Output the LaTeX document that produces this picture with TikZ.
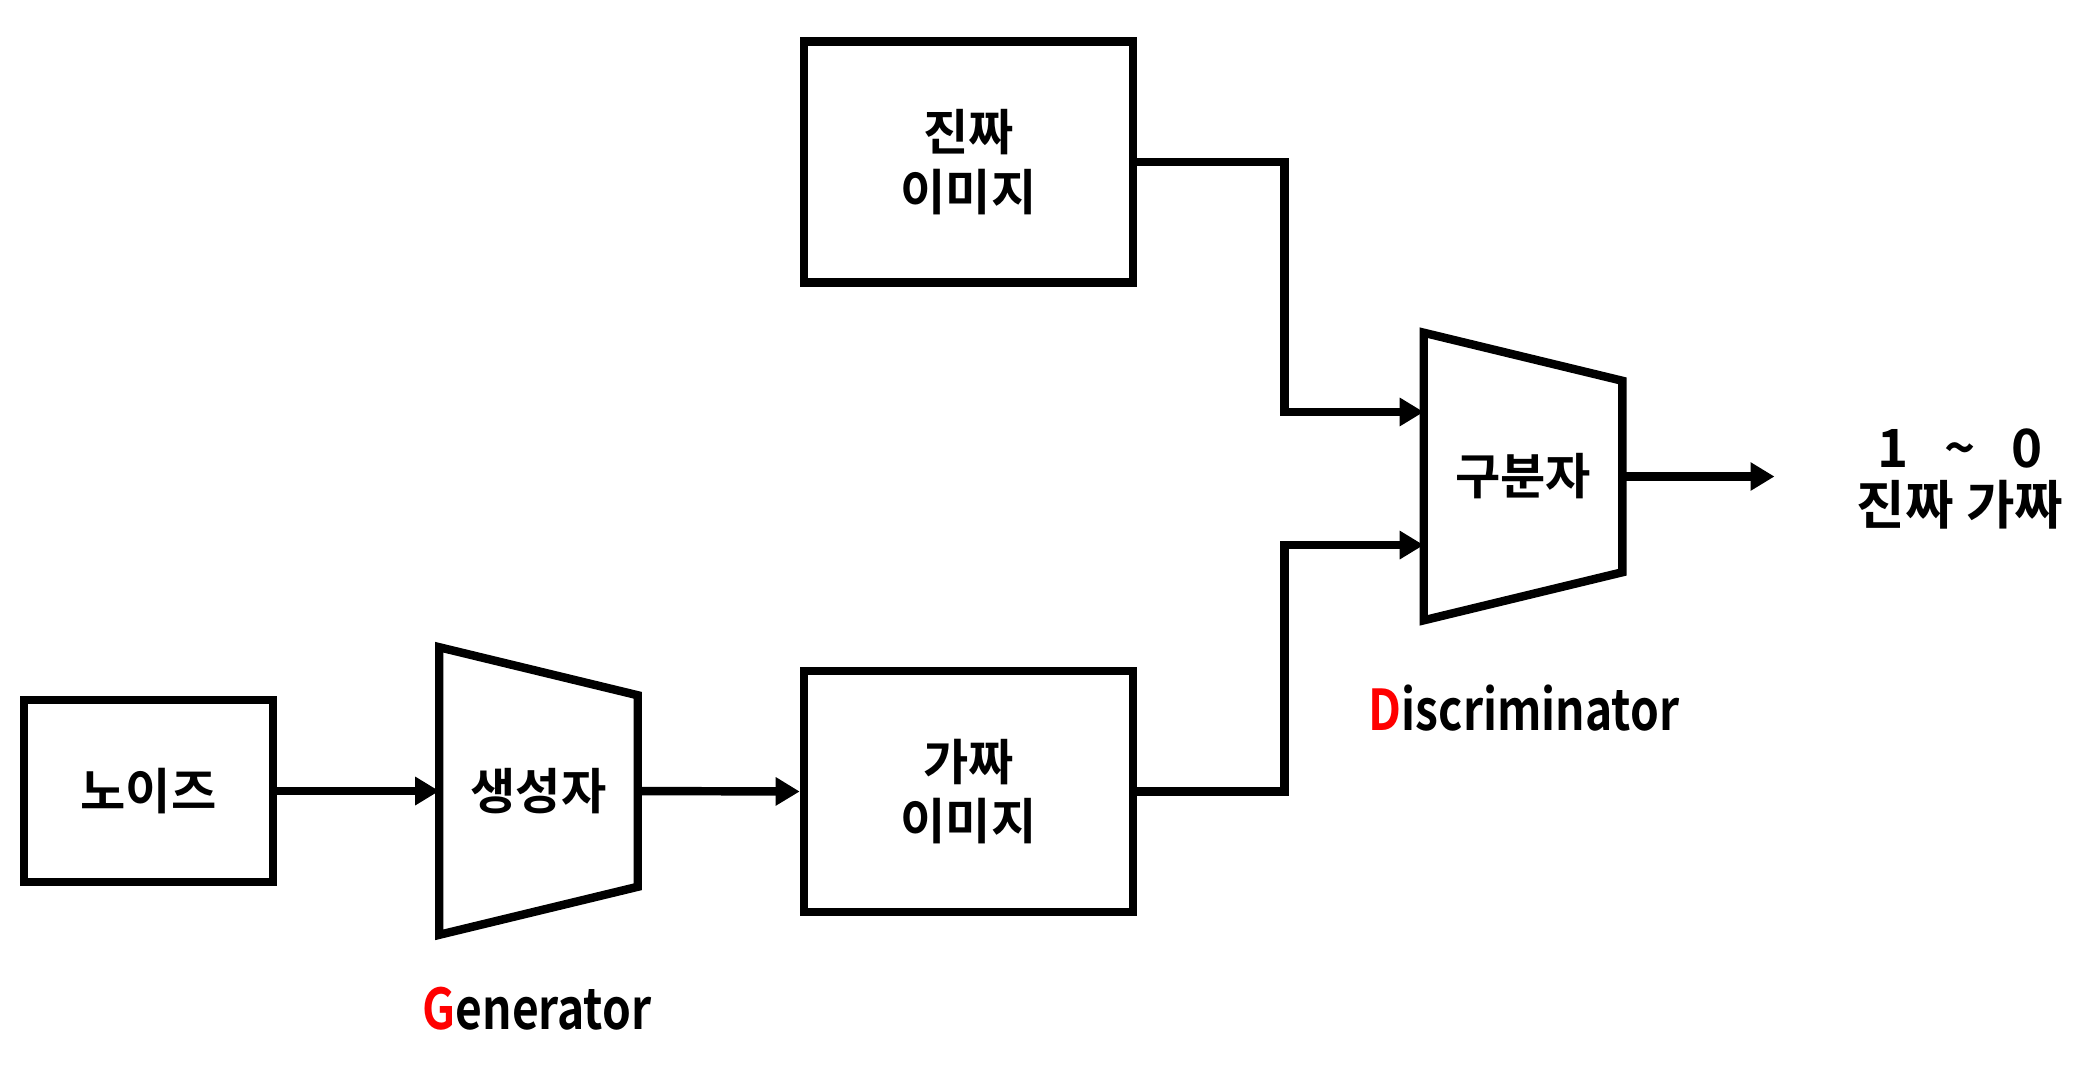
\documentclass[tikz,border=0pt]{standalone}
\usepackage{fontspec}
\setmainfont{Noto Sans CJK KR}[BoldFont={Noto Sans CJK KR Bold}]
\newfontfamily\tagfont{Noto Sans CJK KR Bold}[FakeStretch=0.82]
\usetikzlibrary{arrows.meta}

\tikzset{
  box/.style={draw, line width=2.4pt, align=center,
    font=\bfseries\fontsize{14}{17}\selectfont},
  mux/.style={minimum width=1.97cm, minimum height=2.86cm, inner sep=0pt,
    font=\bfseries\fontsize{14}{17}\selectfont},
  arr/.style={line width=2.4pt, -{Triangle[length=0.24cm, width=0.27cm]}},
  tag/.style={font=\tagfont\fontsize{16}{19}\selectfont}
}

\begin{document}
\begin{tikzpicture}[x=0.01cm, y=-0.01cm]
    \useasboundingbox (0,0) rectangle (2091,1090);

    \node[box, minimum width=2.49cm, minimum height=1.82cm] (noise) at (148.5,791) {노이즈};
    \node[mux] (gen) at (538.5,791) {생성자};
    \node[box, minimum width=3.29cm, minimum height=2.41cm] (fake) at (968.5,791.5) {가짜\\이미지};
    \node[box, minimum width=3.29cm, minimum height=2.41cm] (real) at (968.5,162) {진짜\\이미지};
    \node[mux] (disc) at (1523,476.5) {구분자};
    \node[align=center, font=\bfseries\fontsize{15}{16}\selectfont] (score) at (1960,479)
      {1\ \ \ \textasciitilde\ \ \ 0\\진짜 가짜};

    \foreach \m in {gen,disc}
      \draw [line width=2.4pt, line join=miter] (\m.north west) -- ([yshift=-4.8mm]\m.north east)
        -- ([yshift=4.8mm]\m.south east) -- (\m.south west) -- cycle;

    \draw [arr] (noise.east) -- (gen.west);
    \draw [arr] (gen.east) -- (fake.west);
    \draw [arr] (real.east) -- ++(147,0) |- ([yshift=6.45mm]disc.west);
    \draw [arr] (fake.east) -- ++(147,0) |- ([yshift=-6.85mm]disc.west);
    \draw [arr] (disc.east) -- ([xshift=-7mm]score.west |- disc.east);

    \node[tag] (genname) at (537,1009) {\textcolor{red}{G}enerator};
    \node[tag] (discname) at (1524,708) {\textcolor{red}{D}iscriminator};
\end{tikzpicture}
\end{document}
